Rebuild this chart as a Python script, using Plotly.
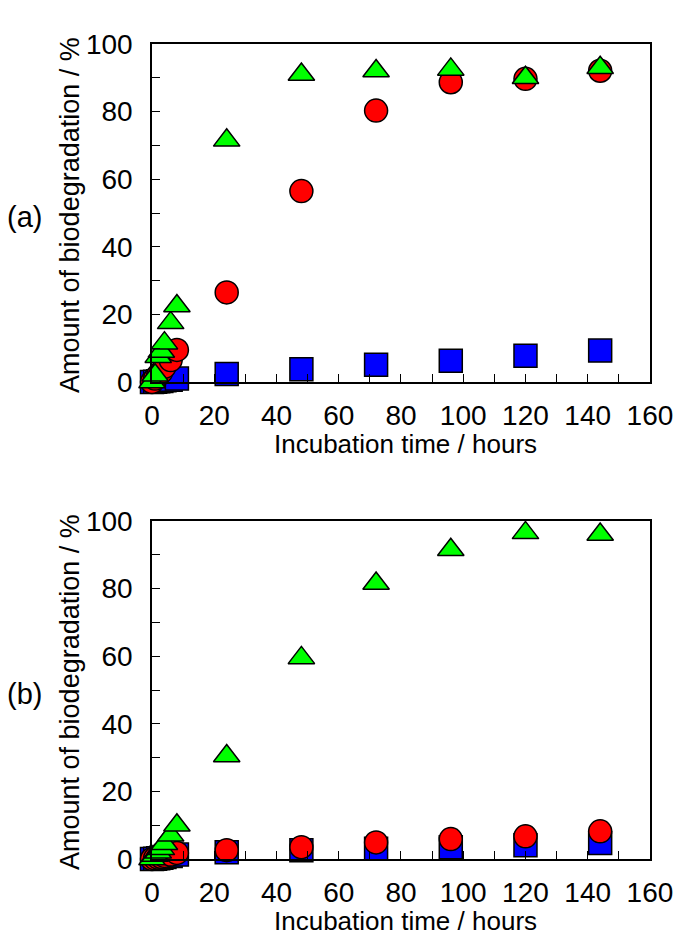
import plotly.graph_objects as go

# ---- data ----
time_early = [0, 1, 2, 3, 4, 6, 8]
time_late = [24, 48, 72, 96, 120, 144]
time_all = time_early + time_late

# panel (a)
a_square = [0, 0.1, 0.2, 0.3, 0.5, 0.7, 1.0, 2.4, 3.8, 5.1, 6.3, 7.8, 9.3]
a_circle = [0, 1.0, 2.0, 3.0, 4.5, 6.5, 9.5, 26.5, 56.5, 80.3, 88.7, 89.7, 92.1]
a_triangle = [0, 2.0, 7.5, 9.0, 11.5, 17.5, 22.5, 71.5, 91.0, 92.0, 92.5, 90.0, 93.0]

# panel (b)
b_square = [0, 0.1, 0.2, 0.4, 0.6, 0.9, 1.3, 2.0, 2.6, 3.0, 3.5, 4.1, 4.7]
b_circle = [0, 0.2, 0.4, 0.6, 0.9, 1.3, 1.8, 2.6, 3.5, 4.9, 5.9, 6.7, 8.2]
b_triangle = [0, 1.0, 2.0, 3.0, 4.5, 7.0, 10.0, 30.5, 59.5, 81.5, 91.5, 96.5, 96.0]

x_ticks = [0, 20, 40, 60, 80, 100, 120, 140, 160]
y_ticks = [0, 20, 40, 60, 80, 100]

W, H = 685, 941
L, R, T, B = 152, 23, 44, 82
plot_h = H - T - B  # 815


def py(p):
    return (H - B - p) / plot_h


def px(p):
    return (p - L) / (W - L - R)


FONT = "Liberation Sans, Arial, sans-serif"
fig = go.Figure()

series = [
    ("square", "#0000FF", 23),
    ("circle", "#FF0000", 23),
    ("triangle-up", "#00FF00", 23),
]

for xa, ya, data in [("x", "y", (a_square, a_circle, a_triangle)),
                     ("x2", "y2", (b_square, b_circle, b_triangle))]:
    for (sym, col, sz), vals in zip(series, data):
        fig.add_trace(go.Scatter(
            x=time_all, y=vals, mode="markers", xaxis=xa, yaxis=ya,
            cliponaxis=False, showlegend=False, hoverinfo="skip",
            marker=dict(symbol=sym, color=col, size=sz,
                        line=dict(color="black", width=1.5)),
        ))

axis_common = dict(
    showgrid=False, zeroline=False, showline=True, linecolor="black",
    linewidth=1.6, mirror=True, ticks="inside", ticklen=8, tickwidth=1.3,
    tickcolor="black", tickfont=dict(family=FONT, size=28, color="black"),
    minor=dict(ticks="inside", ticklen=8, tickwidth=1.3, tickcolor="black", dtick=10),
    ticklabeloverflow="allow",
)

dom_a = [py(382), 1]
dom_b = [0, py(521)]

fig.update_layout(
    width=W, height=H, autosize=False,
    margin=dict(l=L, r=R, t=T, b=B),
    plot_bgcolor="white", paper_bgcolor="white",
    xaxis=dict(axis_common, range=[0, 160.01], tickvals=x_ticks, anchor="y",
               ticklabelstandoff=8),
    yaxis=dict(axis_common, range=[0, 100.01], tickvals=y_ticks, domain=dom_a,
               anchor="x", ticklabelstandoff=12),
    xaxis2=dict(axis_common, range=[0, 160.01], tickvals=x_ticks, anchor="y2",
                ticklabelstandoff=8),
    yaxis2=dict(axis_common, range=[0, 100.01], tickvals=y_ticks, domain=dom_b,
                anchor="x2", ticklabelstandoff=12),
)

annotations = []
for top, bottom, lab in [(44, 382, "(a)"), (521, 859, "(b)")]:
    mid = (top + bottom) / 2
    annotations.append(dict(text="Amount of biodegradation / %", x=px(68), y=py(mid + 2),
                            xref="paper", yref="paper", textangle=-90, showarrow=False,
                            xanchor="center", yanchor="middle",
                            font=dict(family=FONT, size=27, color="black")))
    annotations.append(dict(text=lab, x=px(21), y=py(mid + 4), xref="paper", yref="paper",
                            showarrow=False, xanchor="center", yanchor="middle",
                            font=dict(family=FONT, size=29, color="black")))
    annotations.append(dict(text="Incubation time / hours", x=px(412), y=py(bottom + 62),
                            xref="paper", yref="paper", showarrow=False,
                            xanchor="center", yanchor="middle",
                            font=dict(family=FONT, size=26, color="black")))
fig.update_layout(annotations=annotations)

fig.write_html("out.html", config={"displayModeBar": False},
               post_script="document.body.style.margin='0';document.body.style.overflow='hidden';")
